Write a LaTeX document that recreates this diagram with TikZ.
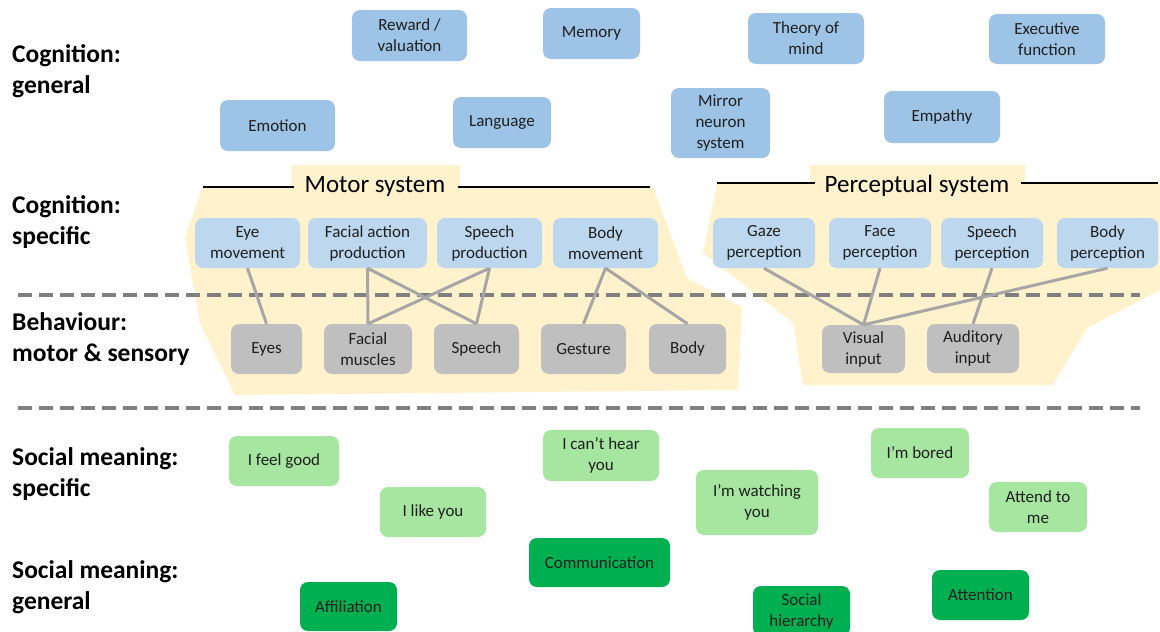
\documentclass[tikz,border=0pt]{standalone}
\usepackage{fontspec}
\setmainfont{Carlito}
\begin{document}
\begin{tikzpicture}[x=1pt,y=-1pt,
  box/.style={rounded corners=8pt,align=center,inner sep=0pt,text=black!88,
    font=\fontsize{17}{21}\selectfont},
  gen/.style={box,fill=bluegen},
  spec/.style={box,fill=bluespec},
  beh/.style={box,fill=graybox},
  smspec/.style={box,fill=greenlight},
  smgen/.style={box,fill=greendark},
  sz/.style 2 args={minimum width=#1pt,minimum height=#2pt},
  rowlabel/.style={anchor=west,align=left,inner sep=0pt,
    font=\fontsize{25.5}{31}\selectfont\bfseries},
  systitle/.style={inner sep=0pt,font=\fontsize{25}{30}\selectfont},
  sysline/.style={line width=1.5pt,black},
  sep/.style={line width=4pt,sepgray,dash pattern=on 14pt off 7pt},
  link/.style={line width=3pt,linkgray},
  region/.style={fill=yellowbg}
]
\definecolor{bluegen}{HTML}{9DC3E6}
\definecolor{bluespec}{HTML}{BDD7EE}
\definecolor{graybox}{HTML}{BFBFBF}
\definecolor{greenlight}{HTML}{A6E6A0}
\definecolor{greendark}{HTML}{00B050}
\definecolor{yellowbg}{HTML}{FFF2CC}
\definecolor{sepgray}{HTML}{808080}
\definecolor{linkgray}{HTML}{A6A6A6}

\useasboundingbox (0,0) rectangle (1160,632);

% regions
\fill[region] (291,165) -- (460,165) -- (460,187) -- (653,187) -- (687,278)
  -- (742,307) -- (738,390) -- (235,395) -- (200,323) -- (185,238)
  -- (202,188) -- (291,188) -- cycle;
\fill[region] (810,165) -- (1025,165) -- (1025,183) -- (1160,183) -- (1160,290)
  -- (1087,328) -- (1053,385) -- (803,385) -- (793,323) -- (703,253)
  -- (717,183) -- (810,183) -- cycle;

% row labels
\node[rowlabel] (l1) at (12,71) {Cognition:\\general};
\node[rowlabel] (l2) at (12,222.5) {Cognition:\\specific};
\node[rowlabel] (l3) at (12,339.5) {Behaviour:\\motor \& sensory};
\node[rowlabel] (l4) at (12,474.5) {Social meaning:\\specific};
\node[rowlabel] (l5) at (12,587.5) {Social meaning:\\general};

% separators
\coordinate (s1a) at (18,295); \coordinate (s1b) at (1140,295);
\coordinate (s2a) at (18,408); \coordinate (s2b) at (1140,408);
\draw[sep] (s1a) -- (s1b);
\draw[sep] (s2a) -- (s2b);

% system titles
\node[systitle] (mtitle) at (375,186) {Motor system};
\node[systitle] (ptitle) at (917,186) {Perceptual system};
\coordinate (m1) at (203,187); \coordinate (m2) at (650,187);
\coordinate (p1) at (717,183); \coordinate (p2) at (1158,183);
\draw[sysline] (m1) -- ([xshift=-10pt]mtitle.west |- m1);
\draw[sysline] ([xshift=12pt]mtitle.east |- m2) -- (m2);
\draw[sysline] (p1) -- ([xshift=-10pt]ptitle.west |- p1);
\draw[sysline] ([xshift=12pt]ptitle.east |- p2) -- (p2);

% general cognition
\node[gen,sz={115}{51}] (reward) at (409.5,35.5) {Reward /\\valuation};
\node[gen,sz={97}{51}] (memory) at (591.5,33.5) {Memory};
\node[gen,sz={116}{51}] (tom) at (806,38.5) {Theory of\\mind};
\node[gen,sz={116}{50}] (exec) at (1047,39) {Executive\\function};
\node[gen,sz={115}{51}] (emotion) at (277.5,125.5) {Emotion};
\node[gen,sz={98}{51}] (language) at (502,122.5) {Language};
\node[gen,sz={99}{70}] (mirror) at (720.5,123) {Mirror\\neuron\\system};
\node[gen,sz={116}{52}] (empathy) at (942,117) {Empathy};

% specific cognition
\node[spec,sz={105}{50}] (eyemov) at (247.5,243) {Eye\\movement};
\node[spec,sz={119}{50}] (facact) at (367.5,243) {Facial action\\production};
\node[spec,sz={105}{50}] (speechprod) at (489.5,243) {Speech\\production};
\node[spec,sz={105}{50}] (bodymov) at (605.5,243) {Body\\movement};
\node[spec,sz={102}{50}] (gaze) at (764,243) {Gaze\\perception};
\node[spec,sz={102}{50}] (face) at (880,243) {Face\\perception};
\node[spec,sz={102}{50}] (speechperc) at (992,243) {Speech\\perception};
\node[spec,sz={101}{50}] (bodyperc) at (1107.5,243) {Body\\perception};

% behaviour
\node[beh,sz={71}{50}] (eyes) at (266.5,349) {Eyes};
\node[beh,sz={88}{50}] (facmus) at (368,349) {Facial\\muscles};
\node[beh,sz={85}{50}] (speech) at (476.5,349) {Speech};
\node[beh,sz={85}{50}] (gesture) at (583.5,349) {Gesture};
\node[beh,sz={77}{50}] (body) at (687.5,349) {Body};
\node[beh,sz={83}{48}] (visual) at (863.5,349) {Visual\\input};
\node[beh,sz={92}{49}] (auditory) at (973,348.5) {Auditory\\input};

% links
\draw[link] (eyemov.south) -- (eyes.north);
\draw[link] (facact.south) -- (facmus.north);
\draw[link] (facact.south) -- (speech.north);
\draw[link] (speechprod.south) -- (facmus.north);
\draw[link] (speechprod.south) -- (speech.north);
\draw[link] (bodymov.south) -- (gesture.north);
\draw[link] (bodymov.south) -- (body.north);
\draw[link] (gaze.south) -- (visual.north);
\draw[link] (face.south) -- (visual.north);
\draw[link] (bodyperc.south) -- (visual.north);
\draw[link] (speechperc.south) -- (auditory.north);

% social meaning specific
\node[smspec,sz={110}{50}] (feelgood) at (284,461) {I feel good};
\node[smspec,sz={106}{50}] (likeyou) at (433,512) {I like you};
\node[smspec,sz={116}{51}] (canthear) at (601,455.5) {I can’t hear\\you};
\node[smspec,sz={122}{65}] (watching) at (757,502.5) {I’m watching\\you};
\node[smspec,sz={98}{50}] (bored) at (920,453) {I’m bored};
\node[smspec,sz={98}{50}] (attendme) at (1038,507) {Attend to\\me};

% social meaning general
\node[smgen,sz={141}{49}] (comm) at (599.5,562.5) {Communication};
\node[smgen,sz={97}{49}] (affil) at (348.5,606.5) {Affiliation};
\node[smgen,sz={97}{50}] (hier) at (801.5,611) {Social\\hierarchy};
\node[smgen,sz={97}{50}] (attention) at (980.5,595) {Attention};
\end{tikzpicture}
\end{document}
